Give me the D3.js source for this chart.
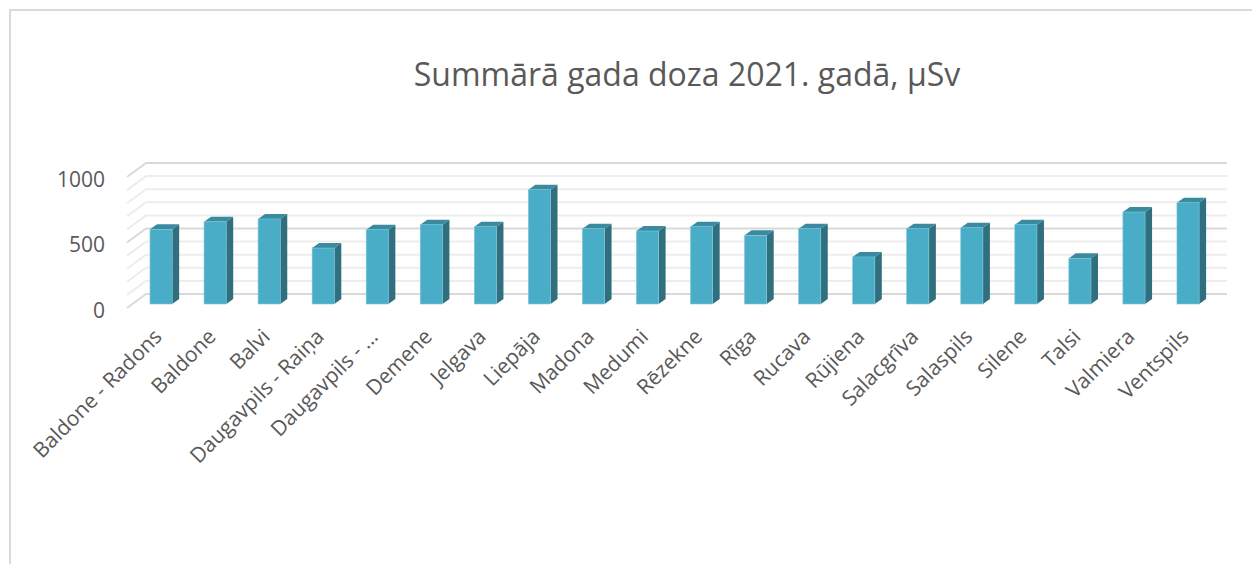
<!DOCTYPE html>
<html>
<head>
<meta charset="utf-8">
<script src="https://cdn.jsdelivr.net/npm/d3@7"></script>
<style>
  body { margin: 0; background: #fff; }
  text { font-family: "Open Sans", sans-serif; fill: #595959; }
</style>
</head>
<body>
<div id="container"></div>
<script>
let categories = ["Baldone - Radons", "Baldone", "Balvi", "Daugavpils - Raiņa", "Daugavpils - ...",
  "Demene", "Jelgava", "Liepāja", "Madona", "Medumi", "Rēzekne", "Rīga", "Rucava", "Rūjiena",
  "Salacgrīva", "Salaspils", "Silene", "Talsi", "Valmiera", "Ventspils"];
let doses = [570, 628, 649, 427, 567, 605, 590, 873, 575, 557, 590, 524, 575, 359,
  575, 582, 605, 349, 702, 773];
let yTicks = [0, 500, 1000];
let gridTicks = [0, 100, 200, 300, 400, 500, 600, 700, 800, 900, 1000];
let title = "Summārā gada doza 2021. gadā, µSv";

let w = 1252;
let h = 564;

let viz = d3.select("#container")
              .append("svg")
              .attr("width", w)
              .attr("height", h)
;

// chart frame
viz.append("rect")
    .attr("x", 10).attr("y", 10)
    .attr("width", w + 20).attr("height", h + 20)
    .attr("fill", "#fff")
    .attr("stroke", "#d9d9d9")
    .attr("stroke-width", 2)
;

viz.append("text")
    .attr("x", 687)
    .attr("y", 86)
    .attr("text-anchor", "middle")
    .style("font-size", "32px")
    .text(title)
;

// back wall scales
let xScale = d3.scaleBand().domain(categories).range([146, 1227]);
let yScale = d3.scaleLinear().domain([0, 1000]).range([294, 163]);

// depth of the side wall (back -> front)
let depthX = -19;
let depthY = 14;

let gridGroup = viz.append("g").attr("class", "grid");
gridTicks.forEach(function(t) {
  let major = (t % 500 == 0);
  let col = major ? "#d9d9d9" : "#ededed";
  gridGroup.append("line")
      .attr("x1", 146).attr("x2", 1227)
      .attr("y1", yScale(t)).attr("y2", yScale(t))
      .attr("stroke", col).attr("stroke-width", 2);
  gridGroup.append("line")
      .attr("x1", 146).attr("y1", yScale(t))
      .attr("x2", 146 + depthX).attr("y2", yScale(t) + depthY)
      .attr("stroke", col).attr("stroke-width", 2);
});

// y labels at the front edge
viz.append("g").selectAll("text").data(yTicks).enter()
    .append("text")
    .attr("x", 105)
    .attr("y", function(d) { return yScale(d) + depthY + 4; })
    .attr("text-anchor", "end")
    .attr("dominant-baseline", "middle")
    .style("font-size", "21px")
    .text(function(d) { return d; })
;

// 3d columns
let barW = xScale.bandwidth() * 0.41;
let barOff = 4;
let faceDY = 10;   // front face drop from back wall
let bdx = 7, bdy = -5; // column depth

let barGroup = viz.append("g").attr("class", "bars");
let bars = barGroup.selectAll("g").data(categories).enter().append("g");

bars.each(function(c, i) {
  let g = d3.select(this);
  let x0 = xScale(c) + barOff;
  let x1 = x0 + barW;
  let yb = yScale(0) + faceDY;
  let yt = yScale(doses[i]) + faceDY;
  g.append("polygon")
      .attr("points", [[x1, yt], [x1 + bdx, yt + bdy], [x1 + bdx, yb + bdy], [x1, yb]].join(" "))
      .attr("fill", "#306f7e");
  g.append("polygon")
      .attr("points", [[x0, yt], [x0 + bdx, yt + bdy], [x1 + bdx, yt + bdy], [x1, yt]].join(" "))
      .attr("fill", "#3a8aa0");
  g.append("rect")
      .attr("x", x0).attr("y", yt)
      .attr("width", barW).attr("height", yb - yt)
      .attr("fill", "#4aadc8")
      .attr("stroke", "#7cc6da")
      .attr("stroke-width", 0.6);
});

// category labels
viz.append("g").selectAll("text").data(categories).enter()
    .append("text")
    .attr("transform", function(d) {
      let cx = xScale(d) + barOff + barW / 2 + 2;
      return "translate(" + cx + ",338) rotate(-45)";
    })
    .attr("text-anchor", "end")
    .style("font-size", "21px")
    .text(function(d) { return d; })
;
</script>
</body>
</html>
